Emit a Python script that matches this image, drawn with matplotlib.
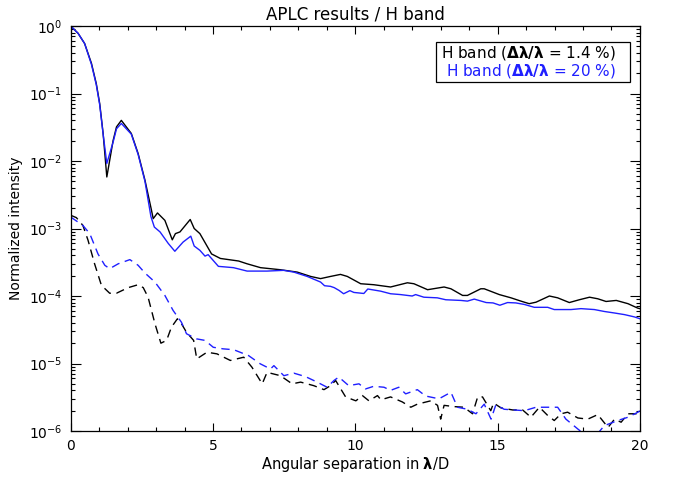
import numpy as np
import matplotlib
matplotlib.use("Agg")
import matplotlib.pyplot as plt
from matplotlib.ticker import MultipleLocator, FixedLocator, NullFormatter
from matplotlib.patches import Rectangle

# Separation in lambda/D and normalized intensity
sep_narrow = [0.0, 0.26, 0.49, 0.73, 0.90, 1.02, 1.14, 1.27, 1.49, 1.61, 1.78, 2.13, 2.37, 2.61,
              2.84, 2.90, 3.05, 3.31, 3.57, 3.68, 3.84, 4.20, 4.34, 4.54, 4.95, 5.26, 5.90, 6.20,
              6.67, 7.37, 7.96, 8.43, 8.78, 9.13, 9.48, 9.72, 10.19, 10.65, 11.24, 11.83, 12.06,
              12.54, 13.12, 13.36, 13.77, 13.94, 14.41, 14.53, 15.06, 15.47, 15.82, 16.11, 16.35,
              16.82, 17.11, 17.52, 17.87, 18.23, 18.52, 18.81, 19.17, 19.58, 19.93, 20.0]
int_narrow = [1.0, 0.78, 0.55, 0.28, 0.14, 0.071, 0.0256, 0.0058, 0.020, 0.032, 0.040, 0.0256,
              0.0129, 0.0052, 1.86e-3, 1.4e-3, 1.7e-3, 1.32e-3, 6.8e-4, 8.4e-4, 8.9e-4, 1.36e-3,
              1.0e-3, 8.4e-4, 4.2e-4, 3.6e-4, 3.3e-4, 3.0e-4, 2.63e-4, 2.45e-4, 2.26e-4, 1.95e-4,
              1.81e-4, 1.95e-4, 2.09e-4, 1.95e-4, 1.52e-4, 1.47e-4, 1.36e-4, 1.57e-4, 1.52e-4,
              1.24e-4, 1.36e-4, 1.28e-4, 1.02e-4, 1.02e-4, 1.28e-4, 1.28e-4, 1.05e-4, 9.4e-5,
              8.4e-5, 7.7e-5, 8.1e-5, 1.0e-4, 9.4e-5, 8.0e-5, 8.8e-5, 9.6e-5, 9.1e-5, 8.3e-5,
              8.6e-5, 7.7e-5, 6.6e-5, 6.5e-5]

sep_broad = [0.0, 0.26, 0.49, 0.73, 0.90, 1.02, 1.14, 1.27, 1.49, 1.61, 1.78, 2.13, 2.37, 2.61,
             2.82, 2.94, 3.14, 3.43, 3.66, 3.95, 4.22, 4.34, 4.54, 4.72, 4.83, 5.19, 5.72, 6.20,
             6.90, 7.48, 7.84, 8.31, 8.78, 8.92, 9.13, 9.26, 9.43, 9.59, 9.81, 9.95, 10.30, 10.44,
             10.89, 11.24, 11.59, 12.00, 12.12, 12.41, 12.88, 13.18, 13.71, 13.94, 14.18, 14.60,
             14.84, 15.08, 15.35, 15.64, 15.94, 16.29, 16.76, 16.99, 17.58, 17.93, 18.40, 18.75,
             19.11, 19.46, 19.81, 20.0]
int_broad = [1.0, 0.78, 0.55, 0.27, 0.135, 0.068, 0.025, 0.0092, 0.019, 0.030, 0.036, 0.025,
             0.0125, 0.0050, 1.5e-3, 1.05e-3, 8.9e-4, 6.0e-4, 4.6e-4, 6.3e-4, 7.7e-4, 5.5e-4,
             4.75e-4, 3.9e-4, 4.1e-4, 2.75e-4, 2.63e-4, 2.34e-4, 2.34e-4, 2.40e-4, 2.26e-4,
             1.95e-4, 1.61e-4, 1.42e-4, 1.39e-4, 1.33e-4, 1.21e-4, 1.08e-4, 1.20e-4, 1.13e-4,
             1.09e-4, 1.27e-4, 1.18e-4, 1.08e-4, 1.05e-4, 1.0e-4, 1.05e-4, 9.6e-5, 9.4e-5, 8.8e-5,
             8.6e-5, 8.4e-5, 9.0e-5, 8.0e-5, 7.9e-5, 7.3e-5, 8.0e-5, 7.9e-5, 7.5e-5, 6.8e-5,
             6.8e-5, 6.3e-5, 6.3e-5, 6.5e-5, 6.3e-5, 5.9e-5, 5.6e-5, 5.3e-5, 4.9e-5, 4.6e-5]

# dashed curves (coronagraphic)
sep_narrow_c = [0.0, 0.20, 0.43, 0.61, 0.84, 1.08, 1.37, 1.61, 2.02, 2.37, 2.55, 2.72, 2.96, 3.17,
                3.37, 3.54, 3.75, 3.89, 4.07, 4.32, 4.43, 4.79, 5.14, 5.61, 6.08, 6.37, 6.73, 6.90,
                7.37, 7.78, 8.08, 8.54, 8.90, 9.13, 9.31, 9.66, 10.02, 10.25, 10.48, 10.78, 10.90,
                11.24, 11.65, 11.95, 12.18, 12.65, 12.89, 13.00, 13.12, 13.47, 13.82, 14.12, 14.30,
                14.47, 14.76, 14.86, 15.12, 15.53, 15.88, 16.17, 16.47, 16.76, 16.99, 17.23, 17.46,
                17.82, 18.17, 18.52, 18.88, 19.11, 19.34, 19.58, 19.93, 20.0]
int_narrow_c = [1.57e-3, 1.45e-3, 1.11e-3, 6.7e-4, 3.0e-4, 1.44e-4, 1.10e-4, 1.10e-4, 1.33e-4,
                1.47e-4, 1.33e-4, 9.6e-5, 3.9e-5, 2.0e-5, 2.2e-5, 3.45e-5, 4.6e-5, 3.9e-5, 2.9e-5,
                2.2e-5, 1.17e-5, 1.47e-5, 1.39e-5, 1.11e-5, 1.24e-5, 8.8e-6, 5.0e-6, 7.4e-6, 6.6e-6,
                5.0e-6, 5.3e-6, 4.7e-6, 4.1e-6, 4.7e-6, 5.6e-6, 3.2e-6, 2.8e-6, 3.35e-6, 2.8e-6,
                3.35e-6, 2.9e-6, 3.2e-6, 2.7e-6, 2.25e-6, 2.5e-6, 2.8e-6, 2.4e-6, 1.5e-6, 2.4e-6,
                2.3e-6, 2.25e-6, 1.8e-6, 3.2e-6, 3.2e-6, 2.0e-6, 2.6e-6, 2.2e-6, 2.05e-6, 2.05e-6,
                1.6e-6, 2.25e-6, 1.7e-6, 1.43e-6, 1.8e-6, 1.9e-6, 1.56e-6, 1.5e-6, 1.75e-6, 1.13e-6,
                1.5e-6, 1.35e-6, 1.8e-6, 1.8e-6, 2.0e-6]

sep_broad_c = [0.0, 0.43, 0.67, 0.96, 1.20, 1.37, 1.67, 2.08, 2.37, 2.61, 2.96, 3.31, 3.60, 3.89,
               4.07, 4.42, 4.72, 5.01, 5.35, 5.73, 6.25, 6.66, 7.02, 7.14, 7.49, 7.84, 8.25, 8.66,
               9.01, 9.25, 9.42, 9.77, 10.13, 10.36, 10.65, 11.01, 11.24, 11.53, 11.77, 12.18,
               12.47, 12.94, 13.36, 13.59, 13.94, 14.24, 14.53, 14.77, 14.94, 15.23, 15.58, 15.94,
               16.35, 16.76, 17.11, 17.40, 17.82, 18.2, 18.5, 18.75, 19.22, 19.58, 19.93, 20.0]
int_broad_c = [1.48e-3, 1.11e-3, 8.4e-4, 4.2e-4, 2.85e-4, 2.54e-4, 3.0e-4, 3.46e-4, 2.85e-4,
               2.19e-4, 1.61e-4, 1.02e-4, 6.1e-5, 4.1e-5, 2.76e-5, 2.32e-5, 2.2e-5, 1.74e-5,
               1.65e-5, 1.6e-5, 1.31e-5, 9.9e-6, 8.3e-6, 9.3e-6, 6.6e-6, 7.2e-6, 6.4e-6, 5.3e-6,
               4.45e-6, 5.6e-6, 6.3e-6, 4.7e-6, 5.0e-6, 4.2e-6, 4.6e-6, 4.45e-6, 4.0e-6, 4.45e-6,
               3.55e-6, 4.1e-6, 3.3e-6, 3.0e-6, 3.75e-6, 2.25e-6, 2.1e-6, 1.8e-6, 2.5e-6, 1.5e-6,
               2.45e-6, 2.1e-6, 2.05e-6, 2.0e-6, 2.25e-6, 2.25e-6, 2.25e-6, 1.5e-6, 1.07e-6, 8e-7,
               9e-7, 1.2e-6, 1.43e-6, 1.6e-6, 1.9e-6, 2.0e-6]

decades = [1e-6, 1e-5, 1e-4, 1e-3, 1e-2, 1e-1, 1.0]

BLUE = "#1f1fff"

fig = plt.figure(figsize=(6.75, 4.78), dpi=100)
ax = fig.add_axes([0.1047, 0.0983, 0.8433, 0.8473])

dash = (0, (6, 4))
ax.plot(sep_narrow, int_narrow, color="black", lw=1.0)
ax.plot(sep_broad, int_broad, color=BLUE, lw=1.0)
ax.plot(sep_narrow_c, int_narrow_c, color="black", lw=1.0, ls=dash)
ax.plot(sep_broad_c, int_broad_c, color=BLUE, lw=1.0, ls=dash)

ax.set_yscale("log")
ax.set_xlim(0, 20)
ax.set_ylim(1e-6, 1.0)

ax.xaxis.set_major_locator(MultipleLocator(5))
ax.xaxis.set_minor_locator(MultipleLocator(1))
ax.yaxis.set_major_locator(FixedLocator(decades))
minor_y = [m * d for d in decades[:-1] for m in range(2, 10)]
ax.yaxis.set_minor_locator(FixedLocator(minor_y))
ax.yaxis.set_minor_formatter(NullFormatter())
ax.tick_params(which="both", direction="in", top=True, right=True, width=0.8,
               labelsize=10, pad=6)
ax.tick_params(which="major", length=6)
ax.tick_params(axis="y", which="major", length=7)
ax.tick_params(which="minor", length=3)
for s in ax.spines.values():
    s.set_linewidth(0.9)

ax.set_title("APLC results / H band", fontsize=12, pad=5)
ax.set_xlabel(r"Angular separation in $\boldsymbol{\lambda}$/D", fontsize=10.5, labelpad=1)
ax.set_ylabel("Normalized intensity", fontsize=10, labelpad=4)

# legend box (text only, as in the original)
ax.add_patch(Rectangle((0.642, 0.862), 0.340, 0.098, transform=ax.transAxes,
                       fill=False, edgecolor="black", lw=0.9))
ax.text(0.650, 0.933, r"H band ($\boldsymbol{\Delta\lambda/\lambda}$ = 1.4 %)",
        transform=ax.transAxes, fontsize=11, color="black", va="center")
ax.text(0.659, 0.889, r"H band ($\boldsymbol{\Delta\lambda/\lambda}$ = 20 %)",
        transform=ax.transAxes, fontsize=11, color=BLUE, va="center")

fig.savefig("out.png", dpi=100)
